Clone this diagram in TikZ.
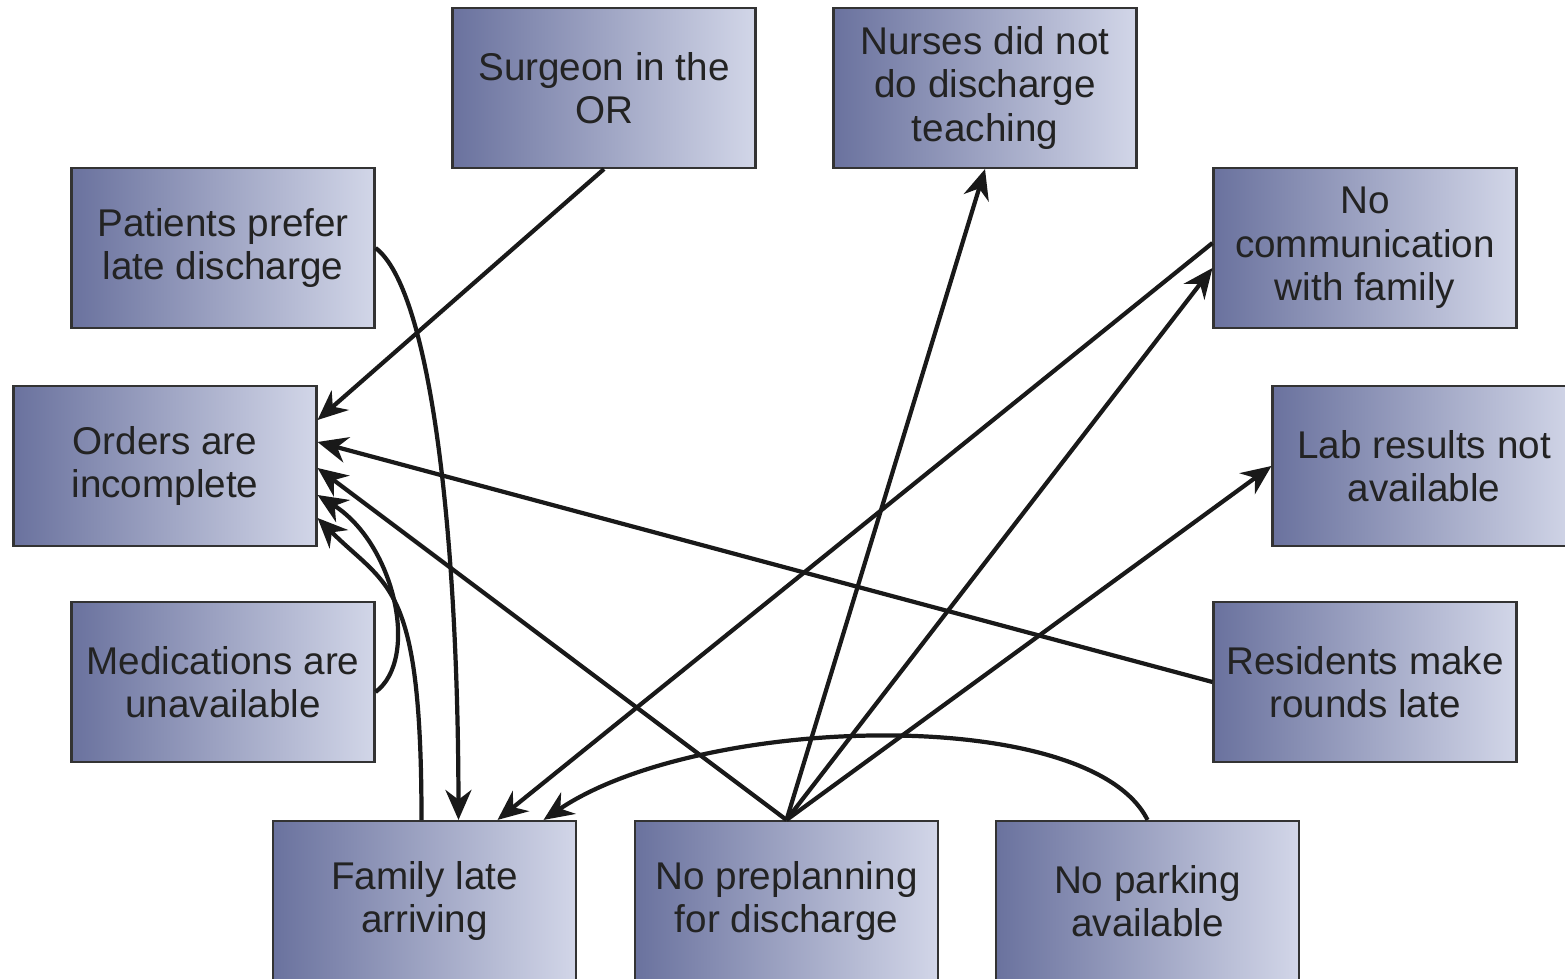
\documentclass[tikz,border=0pt]{standalone}
\usepackage{fontspec}
\setmainfont{Liberation Sans}
\usetikzlibrary{arrows.meta}
\definecolor{boxdark}{RGB}{106,114,158}
\definecolor{boxlight}{RGB}{210,214,232}
\definecolor{txt}{RGB}{35,35,35}

\begin{document}
\begin{tikzpicture}[
  cause/.style={draw=black!80, line width=0.6pt, rectangle, left color=boxdark, right color=boxlight, minimum width=3.03cm, minimum height=1.6cm, align=center, text=txt, font=\fontsize{11}{12.4}\selectfont},
  link/.style={-{Stealth[length=3mm, width=2.6mm]}, line width=1.2pt, black!90}
]
\useasboundingbox (0,0) rectangle (15.65,9.79);

% top row
\node[cause] (surgeon) at (6.04,8.91) {Surgeon in the\\OR};
\node[cause] (nurses) at (9.85,8.91) {Nurses did not\\do discharge\\teaching};
\node[cause] (patients) at (2.23,7.31) {Patients prefer\\late discharge};
\node[cause] (nocomm) at (13.65,7.31) {No\\communication\\with family};
% middle
\node[cause] (orders) at (1.65,5.13) {Orders are\\incomplete};
\node[cause] (lab) at (14.24,5.13) {Lab results not\\available};
\node[cause] (meds) at (2.23,2.97) {Medications are\\unavailable};
\node[cause] (residents) at (13.65,2.97) {Residents make\\rounds late};
% bottom row
\node[cause] (family) at (4.245,0.78) {Family late\\arriving};
\node[cause] (preplan) at (7.865,0.78) {No preplanning\\for discharge};
\node[cause] (parking) at (11.475,0.78) {No parking\\available};

% into orders
\draw[link] (surgeon.south) -- ([yshift=4.6mm]orders.east);
\draw[link] (residents.west) -- ([yshift=2.4mm]orders.east);
\draw[link] (preplan.north) -- ([yshift=-0.2mm]orders.east);
\draw[link] ([yshift=-1mm]meds.east) .. controls (4.2,3.2) and (3.95,4.35) .. ([yshift=-2.9mm]orders.east);
\draw[link] ([xshift=-0.3mm]family.north) .. controls +(0,2.4) and +(0.7,-0.7) .. ([yshift=-5.2mm]orders.east);

% into family
\draw[link] (patients.east) .. controls (4.3,6.9) and (4.58,4.5) .. ([xshift=3.4mm]family.north);
\draw[link] ([yshift=0.5mm]nocomm.west) -- ([xshift=7.3mm]family.north);
\draw[link] (parking.north) .. controls (10.9,2.75) and (7.0,2.65) .. ([xshift=11.9mm]family.north);

% from preplanning
\draw[link] (preplan.north) -- (nurses.south);
\draw[link] (preplan.north) -- ([yshift=-2mm]nocomm.west);
\draw[link] (preplan.north) -- (lab.west);
\end{tikzpicture}
\end{document}
